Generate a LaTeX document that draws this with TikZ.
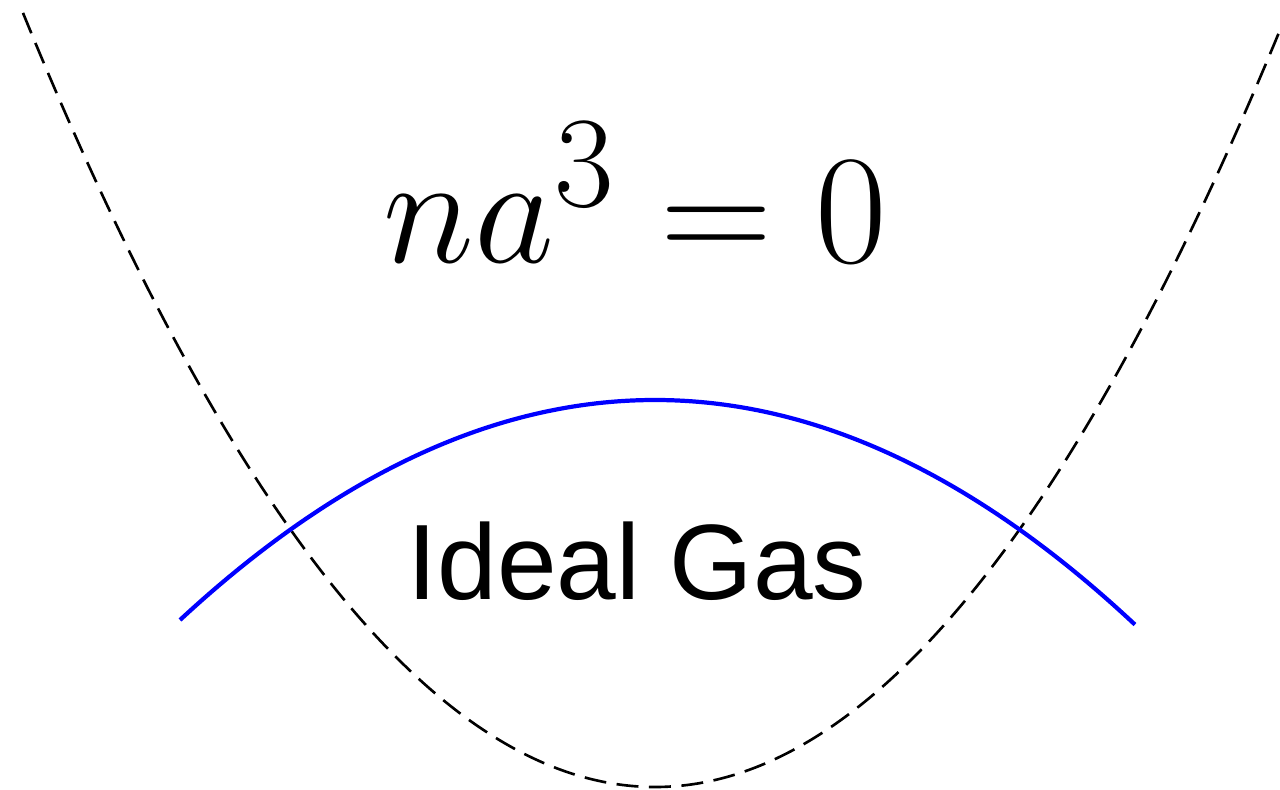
\documentclass[tikz,border=0pt]{standalone}
\usepackage{fontspec}
\newfontfamily\arialfont{Liberation Sans}
\tikzset{
  boundary/.style={black, line width=1.5pt, dash pattern=on 12.5pt off 6pt},
  crossover/.style={blue, line width=2.4pt},
  mathlabel/.style={anchor=base, inner sep=0pt, font=\Huge, scale=3.56},
  gaslabel/.style={anchor=base, inner sep=0pt, font=\arialfont\fontsize{61}{70}\selectfont},
}
\begin{document}
\begin{tikzpicture}[x=0.02cm,y=-0.02cm]
\useasboundingbox (0,0) rectangle (1280,790);
\clip (0,0) rectangle (1280,790);
\draw[boundary] plot[domain=-6.32:6.4,samples=200,smooth,variable=\t] ({655+100*\t},{787-19.38*\t*\t});
\draw[crossover] plot[domain=-4.75:4.8,samples=120,smooth,variable=\t] ({655+100*\t},{400+9.75*\t*\t});
\node[mathlabel] (eq) at (635,263) {$na^3=0$};
\node[gaslabel] (gas) at (637,599) {Ideal Gas};
\end{tikzpicture}
\end{document}
